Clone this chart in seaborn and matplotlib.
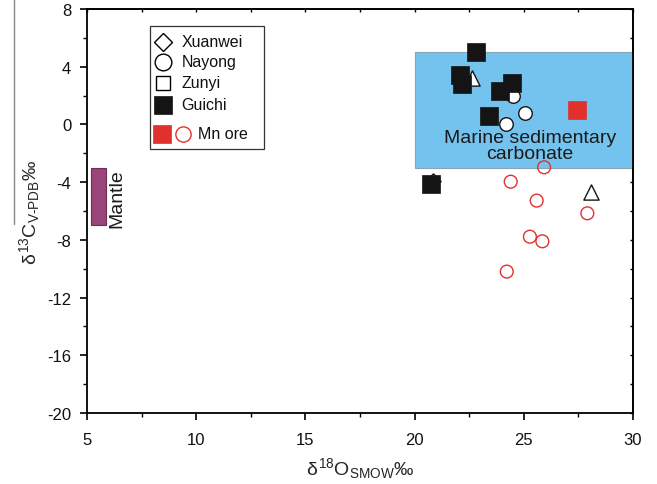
import matplotlib
matplotlib.use("Agg")
import matplotlib.pyplot as plt
import seaborn as sns
import pandas as pd
from matplotlib.lines import Line2D
from matplotlib.patches import Rectangle
from matplotlib.ticker import MultipleLocator

# ---------------- data ----------------
guichi_x = [22.81, 22.08, 22.19, 23.91, 24.45, 23.42, 20.74]
guichi_y = [5.04, 3.43, 2.80, 2.34, 2.85, 0.61, -4.13]

xuanwei_x = [20.84]
xuanwei_y = [-3.9]

nayong_x = [24.49, 25.05, 24.17]
nayong_y = [1.99, 0.77, 0.03]

zunyi_x = [22.61, 28.08]
zunyi_y = [3.20, -4.70]

mn_sq_x = [27.42]
mn_sq_y = [1.02]

mn_circ_x = [25.93, 24.40, 25.59, 27.91, 25.28, 25.85, 24.22]
mn_circ_y = [-2.97, -3.97, -5.28, -6.16, -7.78, -8.10, -10.20]

marine_box = dict(x0=20, x1=30, y0=-3, y1=5)
mantle_box = dict(x0=5.2, x1=5.85, y0=-3, y1=-7)

x_ticks = [5, 10, 15, 20, 25, 30]
y_ticks = [8, 4, 0, -4, -8, -12, -16, -20]
legend_labels = ['Xuanwei', 'Nayong', 'Zunyi', 'Guichi', 'Mn ore']

# ---------------- style ----------------
sns.set_theme(style="white")
plt.rcParams['font.family'] = ['Liberation Sans', 'DejaVu Sans']
plt.rcParams['mathtext.fontset'] = 'custom'
plt.rcParams['mathtext.rm'] = 'Liberation Sans'
plt.rcParams['mathtext.it'] = 'Liberation Sans'

BLUE = '#74C3EE'
MANTLE = '#9B4479'
RED = '#E0312D'
BLACK = '#141414'

W, H = 657, 485
L, R, T, B = 87, 633, 10, 414
fig = plt.figure(figsize=(W/100, H/100), dpi=100)
ax = fig.add_axes([L/W, 1-B/H, (R-L)/W, (B-T)/H])

def axf(px, py):
    return (px - L) / (R - L), (B - py) / (B - T)

# regions
ax.add_patch(Rectangle((marine_box['x0'], marine_box['y0']),
                       marine_box['x1']-marine_box['x0'], marine_box['y1']-marine_box['y0'],
                       facecolor=BLUE, edgecolor='#8aa4b4', lw=0.8, zorder=1))
ax.add_patch(Rectangle((mantle_box['x0'], mantle_box['y1']),
                       mantle_box['x1']-mantle_box['x0'], mantle_box['y0']-mantle_box['y1'],
                       facecolor=MANTLE, edgecolor='#6a2f55', lw=0.8, zorder=1))

ax.text(25.28, -1.46, 'Marine sedimentary\ncarbonate', ha='center', va='center',
        fontsize=14, color='#1a1a1a', linespacing=0.95, zorder=2)
ax.text(6.37, -5.1, 'Mantle', rotation=90, ha='center', va='center',
        fontsize=14, color='#1a1a1a')

# points
def sc(xs, ys, **kw):
    sns.scatterplot(x=xs, y=ys, ax=ax, legend=False, **kw)

sc(mn_circ_x, mn_circ_y, marker='o', s=85, facecolor='none', edgecolor=RED, linewidth=1.0, zorder=3)
sc(zunyi_x, zunyi_y, marker='^', s=120, facecolor='white', edgecolor=BLACK, linewidth=1.0, zorder=3)
sc(xuanwei_x, xuanwei_y, marker='D', s=60, facecolor='white', edgecolor=BLACK, linewidth=1.0, zorder=3)
sc(nayong_x, nayong_y, marker='o', s=95, facecolor='white', edgecolor=BLACK, linewidth=1.0, zorder=4)
sc(guichi_x, guichi_y, marker='s', s=175, color=BLACK, edgecolor=BLACK, linewidth=0.5, zorder=5)
sc(mn_sq_x, mn_sq_y, marker='s', s=165, color=RED, edgecolor=RED, linewidth=0.5, zorder=5)

# axes
ax.set_xlim(5, 30)
ax.set_ylim(-20, 8)
ax.set_xticks(x_ticks)
ax.set_yticks(y_ticks)
ax.set_xticklabels([str(t) for t in x_ticks])
ax.set_yticklabels([str(t) for t in y_ticks])
ax.xaxis.set_minor_locator(MultipleLocator(2.5))
ax.yaxis.set_minor_locator(MultipleLocator(2))
for sp in ax.spines.values():
    sp.set_color('black')
    sp.set_linewidth(1.3)
ax.tick_params(axis='both', which='major', direction='out', length=5, width=1.2,
               labelsize=12, color='black', labelcolor='#111111',
               bottom=True, left=True, top=False, right=False)
ax.tick_params(axis='x', which='major', pad=8.5)
ax.tick_params(axis='y', which='major', pad=6.3)
ax.tick_params(axis='both', which='minor', direction='out', length=3, width=1.0,
               bottom=True, left=True, top=False, right=False, color='black')

# inward ticks on top / right (secondary axes)
axt = ax.secondary_xaxis('top')
axt.set_xticks([5, 7.5, 10, 12.5, 15, 17.5, 20, 22.5, 25, 27.5, 30])
axt.tick_params(direction='in', length=2.2, width=1.0, labeltop=False, color='black')
axt.spines['top'].set_linewidth(1.3)
axr = ax.secondary_yaxis('right')
axr.set_yticks(list(range(-20, 9, 2)))
axr.tick_params(direction='in', length=2.2, width=1.0, labelright=False, color='black')
axr.spines['right'].set_linewidth(1.3)

ax.set_xlabel(r'$\delta^{18}$O$_{\mathregular{SMOW}}$‰', fontsize=14, labelpad=6)
ax.set_ylabel(r'$\delta^{13}$C$_{\mathregular{V' + '\u2010' + r'PDB}}$‰', fontsize=14, labelpad=4)

# legend (drawn by hand to match the boxed key)
x0, y0 = axf(150, 150)
x1, y1 = axf(264, 27)
ax.add_patch(Rectangle((x0, y0), x1-x0, y1-y0, transform=ax.transAxes,
                       facecolor='white', edgecolor='#333333', lw=0.9, zorder=6, clip_on=False))
rows_py = [43, 63, 84, 106, 135]
mk = [dict(marker='D', ms=9.5, mfc='white', mec='black', mew=1.0),
      dict(marker='o', ms=12, mfc='white', mec='black', mew=1.0),
      dict(marker='s', ms=10, mfc='white', mec='black', mew=1.0),
      dict(marker='s', ms=13, mfc=BLACK, mec=BLACK, mew=0.5)]
for lab, py, m in zip(legend_labels[:4], rows_py[:4], mk):
    mx, my = axf(162.7, py)
    ax.plot([mx], [my], transform=ax.transAxes, ls='none', zorder=7, clip_on=False, **m)
    tx, ty = axf(181.7, py)
    ax.text(tx, ty, lab, transform=ax.transAxes, fontsize=11.5, va='center', ha='left',
            color='#111111', zorder=7)
py = rows_py[4]
mx, my = axf(161.7, py)
ax.plot([mx], [my], transform=ax.transAxes, ls='none', marker='s', ms=13.5, mfc=RED, mec=RED,
        mew=0.5, zorder=7, clip_on=False)
mx, my = axf(183.3, py)
ax.plot([mx], [my], transform=ax.transAxes, ls='none', marker='o', ms=11, mfc='white', mec=RED,
        mew=1.0, zorder=7, clip_on=False)
tx, ty = axf(198.3, py)
ax.text(tx, ty, legend_labels[4], transform=ax.transAxes, fontsize=11.5, va='center', ha='left',
        color='#111111', zorder=7)

# stray scan line on the left edge
fig.add_artist(Line2D([14/W, 14/W], [1, 1-225/H], color='#888888', lw=1.0))

fig.savefig('out.png', dpi=100)
